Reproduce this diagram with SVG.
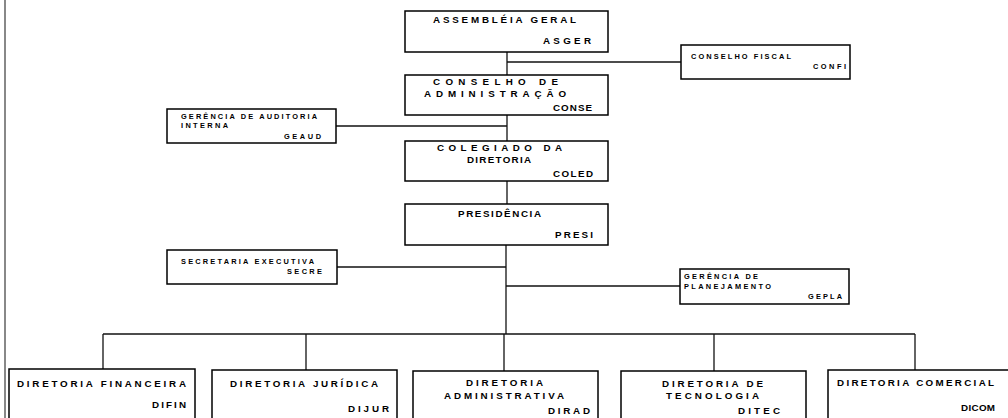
<svg xmlns="http://www.w3.org/2000/svg" width="1008" height="418" viewBox="0 0 1008 418">
<style>
rect.box{fill:#fff;stroke:#000;stroke-width:1.5}
text{font-family:"Liberation Sans",Arial,sans-serif;font-weight:bold;fill:#000}
text.b{font-size:9.8px}
text.s{font-size:7.4px}
#connectors line{stroke:#111;stroke-width:1.3}
</style>
<rect width="1008" height="418" fill="#fff"/>
<line x1="5" y1="0" x2="5" y2="418" stroke="#888" stroke-width="2"/>
<g id="connectors">
<line x1="507" y1="52" x2="507" y2="75"/>
<line x1="507" y1="62" x2="681" y2="62"/>
<line x1="507" y1="115" x2="507" y2="141"/>
<line x1="336" y1="126" x2="507" y2="126"/>
<line x1="507" y1="181" x2="507" y2="204"/>
<line x1="506" y1="245" x2="506" y2="334"/>
<line x1="337" y1="267" x2="506" y2="267"/>
<line x1="506" y1="286" x2="680" y2="286"/>
<line x1="103" y1="334" x2="915" y2="334"/>
<line x1="103" y1="334" x2="103" y2="369"/>
<line x1="306" y1="334" x2="306" y2="370"/>
<line x1="504" y1="334" x2="504" y2="371"/>
<line x1="714" y1="334" x2="714" y2="371"/>
<line x1="915" y1="334" x2="915" y2="370"/>
</g>
<g id="asger">
<rect class="box" x="405" y="11" width="203" height="41"/>
<text class="b" x="433" y="22.5" textLength="143" lengthAdjust="spacing">ASSEMBLÉIA GERAL</text>
<text class="b" x="543" y="44" textLength="48" lengthAdjust="spacing">ASGER</text>
</g>
<g id="confi">
<rect class="box" x="681" y="45" width="169" height="34"/>
<text class="s" x="691" y="59" textLength="100" lengthAdjust="spacing">CONSELHO FISCAL</text>
<text class="s" x="813" y="69" textLength="33" lengthAdjust="spacing">CONFI</text>
</g>
<g id="conse">
<rect class="box" x="405" y="75" width="203" height="40"/>
<text class="b" x="433" y="84.5" textLength="125" lengthAdjust="spacing">CONSELHO DE</text>
<text class="b" x="424" y="97" textLength="142" lengthAdjust="spacing">ADMINISTRAÇÃO</text>
<text class="b" x="553" y="111" textLength="39" lengthAdjust="spacing">CONSE</text>
</g>
<g id="geaud">
<rect class="box" x="167" y="109" width="169" height="34"/>
<text class="s" x="181" y="119" textLength="136" lengthAdjust="spacing">GERÊNCIA DE AUDITORIA</text>
<text class="s" x="181" y="128" textLength="47" lengthAdjust="spacing">INTERNA</text>
<text class="s" x="284" y="139" textLength="37" lengthAdjust="spacing">GEAUD</text>
</g>
<g id="coled">
<rect class="box" x="405" y="141" width="203" height="40"/>
<text class="b" x="437" y="151" textLength="125" lengthAdjust="spacing">COLEGIADO DA</text>
<text class="b" x="467" y="163" textLength="64" lengthAdjust="spacing">DIRETORIA</text>
<text class="b" x="553" y="177" textLength="40" lengthAdjust="spacing">COLED</text>
</g>
<g id="presi">
<rect class="box" x="405" y="204" width="203" height="41"/>
<text class="b" x="458" y="217" textLength="83" lengthAdjust="spacing">PRESIDÊNCIA</text>
<text class="b" x="555" y="238" textLength="38" lengthAdjust="spacing">PRESI</text>
</g>
<g id="secre">
<rect class="box" x="167" y="250" width="170" height="34"/>
<text class="s" x="181" y="264" textLength="133" lengthAdjust="spacing">SECRETARIA EXECUTIVA</text>
<text class="s" x="287" y="274" textLength="35" lengthAdjust="spacing">SECRE</text>
</g>
<g id="gepla">
<rect class="box" x="680" y="269" width="169" height="35"/>
<text class="s" x="684" y="279" textLength="74" lengthAdjust="spacing">GERÊNCIA DE</text>
<text class="s" x="684" y="289" textLength="87" lengthAdjust="spacing">PLANEJAMENTO</text>
<text class="s" x="808" y="299" textLength="34" lengthAdjust="spacing">GEPLA</text>
</g>
<g id="difin">
<rect class="box" x="9" y="369" width="186" height="60"/>
<text class="b" x="17" y="387" textLength="169" lengthAdjust="spacing">DIRETORIA FINANCEIRA</text>
<text class="b" x="152" y="408" textLength="34" lengthAdjust="spacing">DIFIN</text>
</g>
<g id="dijur">
<rect class="box" x="212" y="370" width="185" height="60"/>
<text class="b" x="230" y="387" textLength="148" lengthAdjust="spacing">DIRETORIA JURÍDICA</text>
<text class="b" x="348" y="412" textLength="41" lengthAdjust="spacing">DIJUR</text>
</g>
<g id="dirad">
<rect class="box" x="413" y="371" width="185" height="60"/>
<text class="b" x="466" y="386" textLength="77" lengthAdjust="spacing">DIRETORIA</text>
<text class="b" x="444" y="399" textLength="120" lengthAdjust="spacing">ADMINISTRATIVA</text>
<text class="b" x="548" y="414" textLength="42" lengthAdjust="spacing">DIRAD</text>
</g>
<g id="ditec">
<rect class="box" x="621" y="371" width="185" height="60"/>
<text class="b" x="662" y="387" textLength="101" lengthAdjust="spacing">DIRETORIA DE</text>
<text class="b" x="666" y="399" textLength="93" lengthAdjust="spacing">TECNOLOGIA</text>
<text class="b" x="738" y="414" textLength="42" lengthAdjust="spacing">DITEC</text>
</g>
<g id="dicom">
<rect class="box" x="828" y="370" width="190" height="60"/>
<text class="b" x="837" y="386" textLength="157" lengthAdjust="spacing">DIRETORIA COMERCIAL</text>
<text class="b" x="961" y="411" textLength="34" lengthAdjust="spacing">DICOM</text>
</g>
</svg>
